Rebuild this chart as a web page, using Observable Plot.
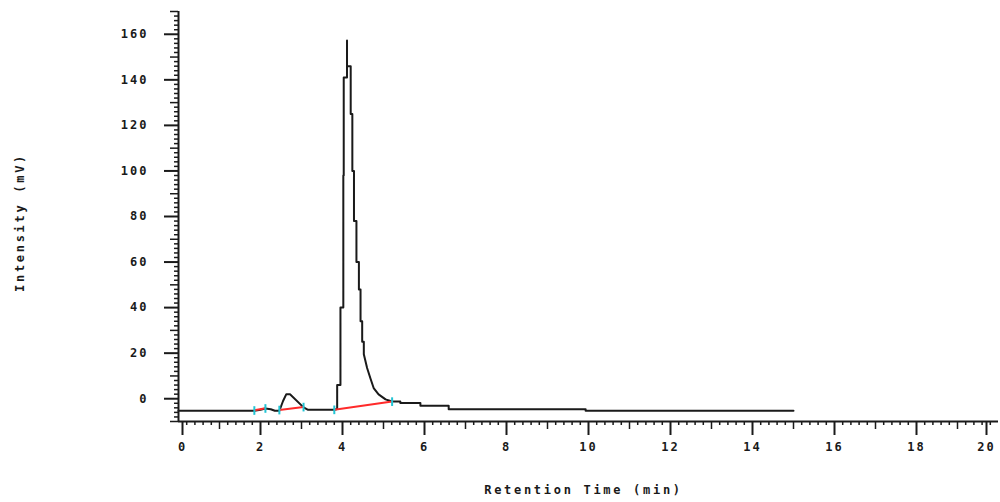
<!DOCTYPE html>
<html>
<head>
<meta charset="utf-8">
<script src="https://cdn.jsdelivr.net/npm/d3@7"></script>
<script src="https://cdn.jsdelivr.net/npm/@observablehq/plot@0.6"></script>
<style>
  html, body { margin: 0; padding: 0; background: #fff; }
  #chart svg text { letter-spacing: 2px; font-weight: bold; }
  #chart svg .title text { letter-spacing: 2.7px; }
</style>
</head>
<body>
<div id="chart"></div>
<script>
// Chromatogram trace (retention time in min, intensity in mV)
const times = [0.00, 1.85, 2.00, 2.12, 2.25, 2.35, 2.46, 2.55, 2.63, 2.72, 3.05, 3.15, 3.80,
  3.87, 3.87, 3.95, 3.95, 4.02, 4.02, 4.03, 4.03, 4.11, 4.11, 4.11, 4.20, 4.20, 4.24, 4.24,
  4.28, 4.28, 4.34, 4.34, 4.40, 4.40, 4.44, 4.44, 4.48, 4.48, 4.52, 4.52, 4.60, 4.68, 4.76,
  4.88, 5.05, 5.21, 5.41, 5.41, 5.90, 5.90, 6.59, 6.59, 9.93, 9.93, 15.00];
const intensity = [-5.3, -5.3, -4.8, -4.3, -4.6, -5.3, -5.3, -1.0, 2.0, 2.0, -3.8, -4.8, -4.8,
  -4.5, 6, 6, 40, 40, 98, 98, 141, 141, 157.3, 146, 146, 125, 125, 100,
  100, 78, 78, 60, 60, 48, 48, 34, 34, 25, 25, 19.5, 13.5, 9, 4.7,
  1.9, -0.3, -1.2, -1.2, -1.9, -1.9, -3.1, -3.1, -4.6, -4.6, -5.3, -5.3];

// Integration baselines (red) and peak start/end markers (cyan)
const baseStartTime = [1.85, 2.46, 3.80];
const baseStartValue = [-5.1, -4.9, -4.8];
const baseEndTime = [2.12, 3.05, 5.21];
const baseEndValue = [-4.2, -3.6, -1.2];
const markerTimes = [1.85, 2.12, 2.46, 3.05, 3.80, 5.21];
const markerValues = [-5.1, -4.2, -4.9, -3.6, -4.8, -1.2];

// Axis ticks
const xMajor = [0, 2, 4, 6, 8, 10, 12, 14, 16, 18, 20];
const xMid = d3.range(1, 20, 2);
const xMinor = d3.range(0, 100).map(i => i / 5).filter(v => Math.abs(v - Math.round(v)) > 1e-9);
const yMajor = [0, 20, 40, 60, 80, 100, 120, 140, 160];
const yMid = [-10, 10, 30, 50, 70, 90, 110, 130, 150, 170];
const yMinor = d3.range(-10, 171, 2).filter(v => v % 10 !== 0);

const trace = times.map((t, i) => ({t, v: intensity[i]}));
const baselines = baseStartTime.map((t, i) => ({t1: t, v1: baseStartValue[i], t2: baseEndTime[i], v2: baseEndValue[i]}));
const markers = markerTimes.map((t, i) => ({t, v: markerValues[i]}));

const ink = "#1a1a1a";
const font = "DejaVu Sans Mono";

const chart = Plot.plot({
  width: 1000,
  height: 502,
  marginLeft: 178,
  marginRight: 2,
  marginTop: 11,
  marginBottom: 81,
  style: {fontFamily: font, fontSize: "12px", color: ink, background: "#fff"},
  x: {domain: [0, 20], label: null},
  y: {domain: [-10, 170], label: null},
  marks: [
    // x axis ticks
    Plot.axisX({ticks: xMinor, tickSize: 4, text: null, stroke: ink, strokeWidth: 1.5}),
    Plot.axisX({ticks: xMid, tickSize: 8, text: null, stroke: ink, strokeWidth: 1.5}),
    Plot.axisX({ticks: xMajor.slice(1, -1), tickSize: 14, tickPadding: 7, stroke: ink, strokeWidth: 2, fill: ink, fontSize: 12, tickFormat: d => String(d)}),
    Plot.axisX({ticks: [0], tickSize: 14, tickPadding: 7, dx: 4, stroke: ink, strokeWidth: 2, fill: ink, fontSize: 12, tickFormat: d => String(d)}),
    Plot.axisX({ticks: [20], tickSize: 14, tickPadding: 7, dx: -12, stroke: ink, strokeWidth: 2, fill: ink, fontSize: 12, tickFormat: d => String(d)}),
    // y axis ticks
    Plot.axisY({ticks: yMinor, tickSize: 4, text: null, stroke: ink, strokeWidth: 1.5}),
    Plot.axisY({ticks: yMid, tickSize: 8, text: null, stroke: ink, strokeWidth: 1.5}),
    Plot.axisY({ticks: yMajor, tickSize: 14, tickPadding: 16, stroke: ink, strokeWidth: 2, fill: ink, fontSize: 12, tickFormat: d => String(d)}),
    // axis lines
    Plot.ruleY([-10], {stroke: ink, strokeWidth: 2}),
    Plot.ruleX([0], {stroke: ink, strokeWidth: 2}),
    // trace
    Plot.line(trace, {x: "t", y: "v", stroke: ink, strokeWidth: 2, curve: "linear"}),
    // integration baselines
    Plot.link(baselines, {x1: "t1", y1: "v1", x2: "t2", y2: "v2", stroke: "#ff2a2a", strokeWidth: 2}),
    // peak markers
    Plot.ruleX(markers, {x: "t", y1: d => d.v - 2.2, y2: d => d.v + 1.6, stroke: "#22c4d4", strokeWidth: 2}),
    // axis titles
    Plot.text(["Retention Time (min)"], {frameAnchor: "bottom", textAnchor: "middle", dx: -5, dy: 72, fill: ink, fontSize: 12, fontWeight: "bold", className: "title"}),
    Plot.text(["Intensity (mV)"], {frameAnchor: "left", textAnchor: "middle", dx: -158, dy: 6, rotate: -90, fill: ink, fontSize: 12, fontWeight: "bold", className: "title"})
  ]
});

document.getElementById("chart").appendChild(chart);
</script>
</body>
</html>
